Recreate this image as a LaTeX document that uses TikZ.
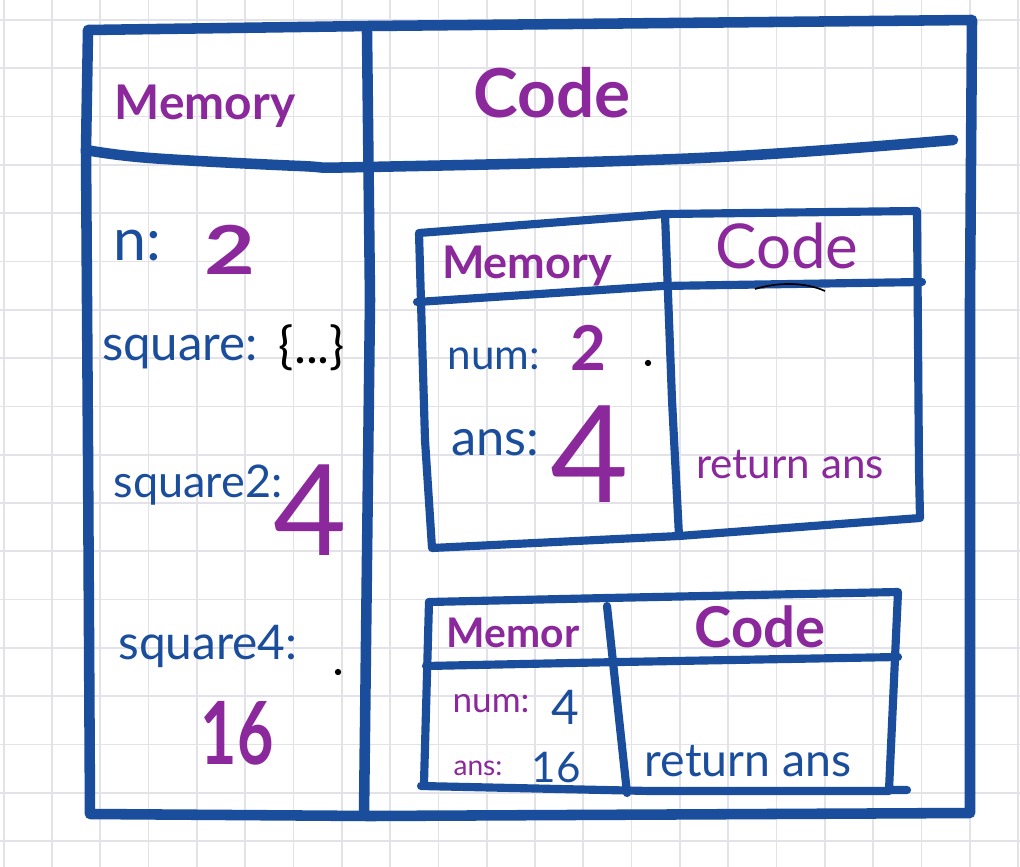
\documentclass[tikz,border=0pt]{standalone}
\usepackage{fontspec}
\setmainfont{Lato}
\definecolor{ink}{RGB}{26,77,156}
\definecolor{hl}{RGB}{138,40,156}
\definecolor{gridc}{RGB}{226,226,232}
\newcommand{\fsz}[1]{\fontsize{#1}{#1}\selectfont}
\begin{document}
\begin{tikzpicture}[x=0.025cm,y=-0.025cm,
  frame/.style={draw=ink,line width=7.5pt,line cap=round,line join=round},
  inbox/.style={draw=ink,line width=5.8pt,line cap=round,line join=round},
  bl/.style={text=ink,inner sep=0pt},
  pu/.style={text=hl,inner sep=0pt},
  bk/.style={text=black,inner sep=0pt},
  dotmark/.style={circle,fill=black,inner sep=0pt,minimum size=4.5pt}]
\useasboundingbox (0,0) rectangle (1020,867);
\fill[white] (0,0) rectangle (1020,867);
% grid paper
\foreach \k in {0,...,21} {
  \draw[gridc,line width=1.2pt] ({3.7+48.3*\k},0) -- ({3.7+48.3*\k},867);
}
\foreach \k in {0,...,17} {
  \draw[gridc,line width=1.2pt] (0,{20+48.3*\k}) -- (1020,{20+48.3*\k});
}
% outer frame
\draw[frame] (88,30) -- (370,26) -- (972,20) -- (970,300) -- (970,813) -- (370,816) -- (90,814) -- (88,450) -- (86,150) -- (88,30);
\draw[frame] plot[smooth,tension=0.6] coordinates {(86,150) (150,158) (300,166) (367,167) (700,158) (953,140)};
\draw[frame] (367,32) -- (370,300) -- (364,815);
% inner box 1
\draw[inbox] (419,233) -- (665,214) -- (917,211) -- (919,470) -- (920,518) -- (679,536) -- (432,548) -- (425,440) -- (419,233);
\draw[inbox] (417,302) -- (662,286) -- (922,282);
\draw[inbox] (665,214) -- (672,400) -- (679,536);
% inner box 2
\draw[inbox] (429,602) -- (607,598) -- (898,592) -- (889,790) -- (907,790);
\draw[inbox] (421,786) -- (650,791) -- (889,791);
\draw[inbox] (429,602) -- (424,783);
\draw[inbox] (426,666) -- (620,662) -- (898,657);
\draw[inbox] (607,606) -- (627,793);
% main texts
\node[pu,font=\fsz{34}\bfseries] (memA) at (205,106) {Memory};
\node[pu,font=\fsz{48}\bfseries] (codeA) at (552,93) {Code};
\node[bl,font=\fsz{42}] (nA) at (137,246) {n:};
\node[pu,font=\fsz{48}\bfseries] (nV) at (230,250) {\scalebox{1.3}[1]{2}};
\node[bl,font=\fsz{35}] (sqA) at (180,352) {square:};
\node[bk,font=\fsz{36}] (sqV) at (312,348) {\{...\}};
\node[bl,font=\fsz{32}] (sq2A) at (198,485) {square2:};
\node[pu,font=\fsz{90}] (sq2V) at (310,510) {4};
\node[bl,font=\fsz{34}] (sq4A) at (208,646) {square4:};
\node[dotmark] (dotA) at (338,672) {};
\node[pu,font=\fsz{62}\bfseries] (sq4V) at (237,733) {\scalebox{0.72}[1]{16}};
% inner box 1 texts
\node[pu,font=\fsz{32}\bfseries] (memB) at (527,266) {Memory};
\node[pu,font=\fsz{44}] (codeB) at (787,246) {Code};
\draw[black,line width=1.2pt] (755,289) .. controls (778,282) and (805,282) .. (825,291);
\node[bl,font=\fsz{30}] (numB) at (494,359) {num:};
\node[pu,font=\fsz{44}\bfseries] (numBV) at (588,348) {2};
\node[dotmark] (dotB) at (648,363) {};
\node[bl,font=\fsz{36}] (ansB) at (495,443) {ans:};
\node[pu,font=\fsz{96}] (ansBV) at (590,454) {4};
\node[pu,font=\fsz{30}] (retB) at (790,465) {return ans};
% inner box 2 texts
\node[pu,font=\fsz{29}\bfseries] (memC) at (513,633) {Memor};
\node[pu,font=\fsz{40}\bfseries] (codeC) at (760,627) {Code};
\node[pu,font=\fsz{25}] (numC) at (491,704) {num:};
\node[bl,font=\fsz{34}] (numCV) at (565,707) {4};
\node[pu,font=\fsz{20}] (ansC) at (478,768) {ans:};
\node[bl,font=\fsz{30}] (ansCV) at (556,768) {16};
\node[bl,font=\fsz{33}] (retC) at (748,761) {return ans};
\end{tikzpicture}
\end{document}
